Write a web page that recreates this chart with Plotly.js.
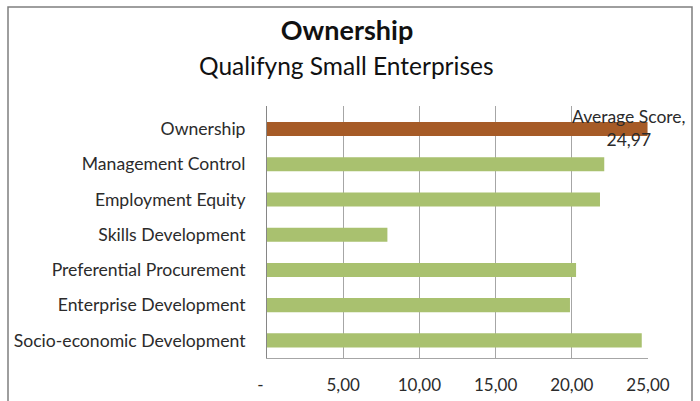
<!DOCTYPE html>
<html>
<head>
<meta charset="utf-8">
<script src="https://cdn.plot.ly/plotly-3.0.1.min.js"></script>
<style>
  html, body { margin: 0; padding: 0; background: #fff; }
  #chart { width: 700px; height: 401px; }
</style>
</head>
<body>
<div id="chart"></div>
<script>
const categories = [
  "Ownership",
  "Management Control",
  "Employment Equity",
  "Skills Development",
  "Preferential Procurement",
  "Enterprise Development",
  "Socio-economic Development"
];
const values = [24.97, 22.13, 21.85, 7.90, 20.28, 19.88, 24.59];
const highlightName = "Average Score";
const tickValues = [0, 5, 10, 15, 20, 25];
const tickLabels = ["-\u00a0\u00a0\u00a0", "5,00", "10,00", "15,00", "20,00", "25,00"];
const titleText = "Ownership";
const subtitleText = "Qualifyng Small Enterprises";

const brown = "#A65B27";
const green = "#A9C16F";
const FONT = "Lato, 'Open Sans', sans-serif";

const colors = categories.map((c, i) => i === 0 ? brown : green);

const fmt = v => v.toFixed(2).replace('.', ',');

const L = 267, R = 52, T = 106, B = 43, W = 700, H = 401;
const pw = W - L - R, ph = H - T - B;
const px = x => (x - L) / pw;
const py = y => (H - B - y) / ph;

const trace = {
  type: 'bar',
  orientation: 'h',
  y: categories,
  x: values,
  marker: { color: colors, line: { width: 0 } },
  hoverinfo: 'x+y'
};

const layout = {
  width: W, height: H,
  margin: { l: L, r: R, t: T, b: B, pad: 0 },
  paper_bgcolor: '#fff',
  plot_bgcolor: '#fff',
  showlegend: false,
  bargap: 0.6,
  font: { family: FONT, color: '#333', size: 17 },
  title: {
    text: '<b>' + titleText + '</b>',
    font: { family: FONT, size: 27, color: '#111' },
    x: 347 / W, xref: 'container', xanchor: 'center',
    y: 1 - 31 / H, yref: 'container', yanchor: 'middle'
  },
  xaxis: {
    range: [0, 25],
    tickvals: tickValues,
    ticktext: tickLabels,
    showgrid: true,
    gridcolor: '#A6A6A6',
    gridwidth: 1,
    zeroline: false,
    showline: true,
    linecolor: '#A6A6A6',
    linewidth: 1,
    ticks: '',
    ticklabelstandoff: 12,
    tickfont: { family: FONT, size: 17, color: '#2b2b2b' },
    fixedrange: true
  },
  yaxis: {
    type: 'category',
    autorange: 'reversed',
    showgrid: false,
    zeroline: false,
    showline: true,
    linecolor: '#868686',
    linewidth: 1,
    ticks: '',
    ticklabelstandoff: 17,
    tickfont: { family: FONT, size: 17.6, color: '#2b2b2b' },
    fixedrange: true
  },
  annotations: [
    {
      text: subtitleText,
      xref: 'paper', yref: 'paper',
      x: px(346), y: py(66),
      xanchor: 'center', yanchor: 'middle',
      showarrow: false,
      font: { family: FONT, size: 24.5, color: '#111' }
    },
    {
      text: highlightName + ',<br>' + fmt(values[0]),
      x: values[0], y: categories[0],
      xref: 'x', yref: 'y',
      xanchor: 'center', yanchor: 'middle',
      xshift: -19, yshift: 1,
      showarrow: false,
      align: 'center',
      font: { family: FONT, size: 17.5, color: '#2b2b2b' }
    }
  ],
  shapes: [
    {
      type: 'path', xref: 'paper', yref: 'paper',
      path: 'M ' + px(8) + ' ' + py(420) + ' L ' + px(8) + ' ' + py(7) +
            ' L ' + px(692) + ' ' + py(7) + ' L ' + px(692) + ' ' + py(420),
      line: { color: '#7F7F7F', width: 1.5 },
      layer: 'above'
    }
  ]
};

Plotly.newPlot('chart', [trace], layout, { displayModeBar: false, staticPlot: true });
</script>
</body>
</html>
